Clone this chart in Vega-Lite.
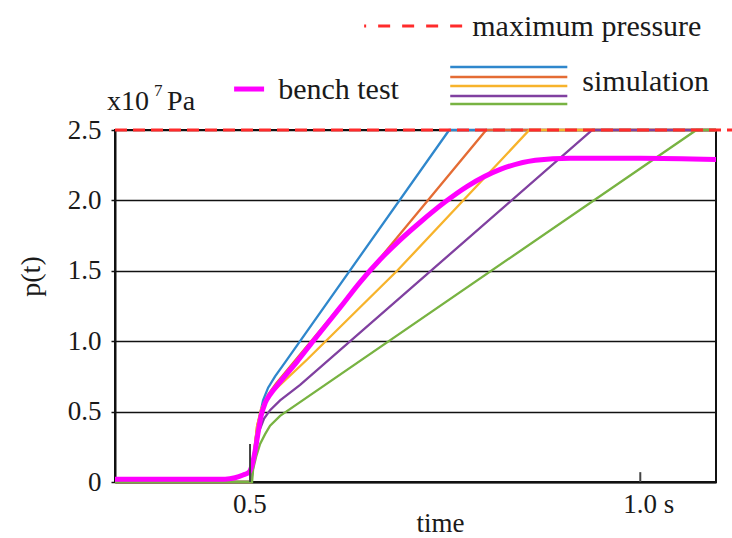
{
  "$schema": "https://vega.github.io/schema/vega-lite/v6.json",
  "width": 601,
  "height": 352,
  "autosize": "none",
  "padding": {"left": 115, "top": 130, "right": 16, "bottom": 56},
  "background": "white",
  "config": {
    "view": {"stroke": "#111111", "strokeWidth": 2},
    "font": "Liberation Serif"
  },
  "datasets": {
    "sim": [
      {"series": "s1", "t": 0.327, "p": 0}, {"series": "s1", "t": 0.5, "p": 0}, {"series": "s1", "t": 0.5039, "p": 0.15}, {"series": "s1", "t": 0.5078, "p": 0.33}, {"series": "s1", "t": 0.5116, "p": 0.45}, {"series": "s1", "t": 0.5167, "p": 0.58}, {"series": "s1", "t": 0.5232, "p": 0.67}, {"series": "s1", "t": 0.5321, "p": 0.75}, {"series": "s1", "t": 0.5449, "p": 0.85}, {"series": "s1", "t": 0.7552, "p": 2.5}, {"series": "s1", "t": 1.097, "p": 2.5},
      {"series": "s2", "t": 0.327, "p": 0}, {"series": "s2", "t": 0.5014, "p": 0}, {"series": "s2", "t": 0.5052, "p": 0.2}, {"series": "s2", "t": 0.5091, "p": 0.4}, {"series": "s2", "t": 0.5155, "p": 0.53}, {"series": "s2", "t": 0.5232, "p": 0.62}, {"series": "s2", "t": 0.5334, "p": 0.7}, {"series": "s2", "t": 0.5514, "p": 0.82}, {"series": "s2", "t": 0.8026, "p": 2.5}, {"series": "s2", "t": 1.097, "p": 2.5},
      {"series": "s3", "t": 0.327, "p": 0}, {"series": "s3", "t": 0.5014, "p": 0}, {"series": "s3", "t": 0.5052, "p": 0.22}, {"series": "s3", "t": 0.5091, "p": 0.4}, {"series": "s3", "t": 0.5142, "p": 0.52}, {"series": "s3", "t": 0.5232, "p": 0.61}, {"series": "s3", "t": 0.5385, "p": 0.69}, {"series": "s3", "t": 0.5732, "p": 0.87}, {"series": "s3", "t": 0.6885, "p": 1.5}, {"series": "s3", "t": 0.8578, "p": 2.5}, {"series": "s3", "t": 1.097, "p": 2.5},
      {"series": "s4", "t": 0.327, "p": 0}, {"series": "s4", "t": 0.5014, "p": 0}, {"series": "s4", "t": 0.5065, "p": 0.2}, {"series": "s4", "t": 0.5116, "p": 0.36}, {"series": "s4", "t": 0.518, "p": 0.45}, {"series": "s4", "t": 0.5257, "p": 0.51}, {"series": "s4", "t": 0.5385, "p": 0.58}, {"series": "s4", "t": 0.5642, "p": 0.69}, {"series": "s4", "t": 0.9385, "p": 2.5}, {"series": "s4", "t": 1.097, "p": 2.5},
      {"series": "s5", "t": 0.327, "p": 0}, {"series": "s5", "t": 0.5026, "p": 0}, {"series": "s5", "t": 0.5039, "p": 0.09}, {"series": "s5", "t": 0.5078, "p": 0.18}, {"series": "s5", "t": 0.5129, "p": 0.27}, {"series": "s5", "t": 0.5193, "p": 0.34}, {"series": "s5", "t": 0.5257, "p": 0.4}, {"series": "s5", "t": 0.5385, "p": 0.47}, {"series": "s5", "t": 1.0719, "p": 2.5}, {"series": "s5", "t": 1.097, "p": 2.5}
    ],
    "bench": [
      {"t": 0.327, "p": 0.02}, {"t": 0.468, "p": 0.02}, {"t": 0.4808, "p": 0.03}, {"t": 0.4911, "p": 0.05}, {"t": 0.4988, "p": 0.07}, {"t": 0.5026, "p": 0.12}, {"t": 0.5065, "p": 0.22}, {"t": 0.5103, "p": 0.35}, {"t": 0.5142, "p": 0.47}, {"t": 0.5193, "p": 0.56}, {"t": 0.5257, "p": 0.62}, {"t": 0.5385, "p": 0.71}, {"t": 0.5603, "p": 0.855}, {"t": 0.5808, "p": 1.0}, {"t": 0.6155, "p": 1.24}, {"t": 0.6411, "p": 1.42}, {"t": 0.6667, "p": 1.58}, {"t": 0.6924, "p": 1.72}, {"t": 0.718, "p": 1.845}, {"t": 0.7501, "p": 1.99}, {"t": 0.7783, "p": 2.1}, {"t": 0.8206, "p": 2.22}, {"t": 0.8655, "p": 2.285}, {"t": 0.9103, "p": 2.3}, {"t": 1.0, "p": 2.3}, {"t": 1.097, "p": 2.29}
    ],
    "maxp": [{"t0": 0.327, "t1": 1.118, "p": 2.5}],
    "maxleg": [{"t0": 0.6462, "t1": 0.7719, "p": 3.239}],
    "ticks": [{"t": 0.5, "p0": 0, "p1": 0.27}, {"t": 1.0, "p0": 0, "p1": 0.07}],
    "benchleg": [{"t0": 0.4796, "t1": 0.518, "p": 2.791}],
    "simleg": [
      {"series": "s1", "t0": 0.7565, "t1": 0.9065, "p": 2.947},
      {"series": "s2", "t0": 0.7565, "t1": 0.9065, "p": 2.876},
      {"series": "s3", "t0": 0.7565, "t1": 0.9065, "p": 2.8125},
      {"series": "s4", "t0": 0.7565, "t1": 0.9065, "p": 2.741},
      {"series": "s5", "t0": 0.7565, "t1": 0.9065, "p": 2.685}
    ],
    "labels": [
      {"t": 0.7847, "p": 3.232, "label": "maximum pressure"},
      {"t": 0.536, "p": 2.784, "label": "bench test"},
      {"t": 0.9257, "p": 2.841, "label": "simulation"}
    ],
    "unit": [
      {"t": 0.3167, "p": 2.699, "label": "x10"},
      {"t": 0.3937, "p": 2.699, "label": "Pa"}
    ],
    "sup": [{"t": 0.377, "p": 2.777, "label": "7"}]
  },
  "layer": [
    {
      "data": {"name": "sim"},
      "mark": {"type": "line", "strokeWidth": 2.3, "interpolate": "linear"},
      "encoding": {
        "x": {
          "field": "t", "type": "quantitative",
          "scale": {"domain": [0.327, 1.097], "nice": false, "zero": false},
          "axis": {
            "values": [0.5, 1.0],
            "labelExpr": "datum.value == 1 ? '1.0 s' : '0.5'",
            "labelAlign": "left", "labelOffset": -17.5,
            "ticks": false, "grid": false,
            "domainColor": "#111111", "domainWidth": 2,
            "labelFontSize": 27, "labelColor": "#1a1a1a", "labelPadding": 9,
            "labelFont": "Liberation Serif",
            "title": "time", "titleFontSize": 27, "titleFontWeight": "normal", "titleColor": "#1a1a1a",
            "titleFont": "Liberation Serif",
            "titleX": 325, "titleY": 49, "titleAlign": "center", "titleBaseline": "alphabetic"
          }
        },
        "y": {
          "field": "p", "type": "quantitative",
          "scale": {"domain": [0, 2.5], "nice": false, "zero": true},
          "axis": {
            "values": [0, 0.5, 1, 1.5, 2, 2.5],
            "labelExpr": "datum.value == 0 ? '0' : format(datum.value, '.1f')",
            "grid": true, "gridColor": "#111111", "gridWidth": 1.5, "gridOpacity": 1,
            "tickSize": 4, "tickColor": "#111111", "tickWidth": 1.5,
            "domainColor": "#111111", "domainWidth": 2,
            "labelFontSize": 27, "labelColor": "#1a1a1a", "labelPadding": 10,
            "labelFont": "Liberation Serif",
            "title": "p(t)", "titleFontSize": 28, "titleFontWeight": "normal", "titleColor": "#1a1a1a",
            "titleFont": "Liberation Serif",
            "titleAngle": -90, "titleX": -84, "titleY": 146, "titleAlign": "center", "titleBaseline": "middle"
          }
        },
        "color": {
          "field": "series", "type": "nominal",
          "scale": {"domain": ["s1", "s2", "s3", "s4", "s5"], "range": ["#2f87cc", "#e46c34", "#f7b32b", "#8040a0", "#78b342"]},
          "legend": null
        }
      }
    },
    {
      "data": {"name": "bench"},
      "mark": {"type": "line", "strokeWidth": 5, "color": "#ff00ff", "interpolate": "monotone"},
      "encoding": {
        "x": {"field": "t", "type": "quantitative"},
        "y": {"field": "p", "type": "quantitative"}
      }
    },
    {
      "data": {"name": "ticks"},
      "mark": {"type": "rule", "strokeWidth": 2, "color": "#444444"},
      "encoding": {
        "x": {"field": "t", "type": "quantitative"},
        "y": {"field": "p0", "type": "quantitative"},
        "y2": {"field": "p1"}
      }
    },
    {
      "data": {"name": "maxp"},
      "mark": {"type": "rule", "strokeWidth": 3, "color": "#ff2b2b", "strokeDash": [12, 6], "clip": false},
      "encoding": {
        "x": {"field": "t0", "type": "quantitative"},
        "x2": {"field": "t1"},
        "y": {"field": "p", "type": "quantitative"}
      }
    },
    {
      "data": {"name": "maxleg"},
      "mark": {"type": "rule", "strokeWidth": 3, "color": "#ff2b2b", "strokeDash": [2, 12, 12, 12, 12, 12, 12, 12, 12, 12], "clip": false},
      "encoding": {
        "x": {"field": "t0", "type": "quantitative"},
        "x2": {"field": "t1"},
        "y": {"field": "p", "type": "quantitative"}
      }
    },
    {
      "data": {"name": "benchleg"},
      "mark": {"type": "rule", "strokeWidth": 5, "color": "#ff00ff", "clip": false},
      "encoding": {
        "x": {"field": "t0", "type": "quantitative"},
        "x2": {"field": "t1"},
        "y": {"field": "p", "type": "quantitative"}
      }
    },
    {
      "data": {"name": "simleg"},
      "mark": {"type": "rule", "strokeWidth": 2.5, "clip": false},
      "encoding": {
        "x": {"field": "t0", "type": "quantitative"},
        "x2": {"field": "t1"},
        "y": {"field": "p", "type": "quantitative"},
        "color": {"field": "series", "type": "nominal", "legend": null}
      }
    },
    {
      "data": {"name": "labels"},
      "mark": {"type": "text", "align": "left", "baseline": "middle", "fontSize": 30, "color": "#1a1a1a", "font": "Liberation Serif"},
      "encoding": {
        "x": {"field": "t", "type": "quantitative"},
        "y": {"field": "p", "type": "quantitative"},
        "text": {"field": "label"}
      }
    },
    {
      "data": {"name": "unit"},
      "mark": {"type": "text", "align": "left", "baseline": "middle", "fontSize": 28, "color": "#1a1a1a", "font": "Liberation Serif"},
      "encoding": {
        "x": {"field": "t", "type": "quantitative"},
        "y": {"field": "p", "type": "quantitative"},
        "text": {"field": "label"}
      }
    },
    {
      "data": {"name": "sup"},
      "mark": {"type": "text", "align": "left", "baseline": "middle", "fontSize": 17, "color": "#1a1a1a", "font": "Liberation Serif"},
      "encoding": {
        "x": {"field": "t", "type": "quantitative"},
        "y": {"field": "p", "type": "quantitative"},
        "text": {"field": "label"}
      }
    }
  ]
}
